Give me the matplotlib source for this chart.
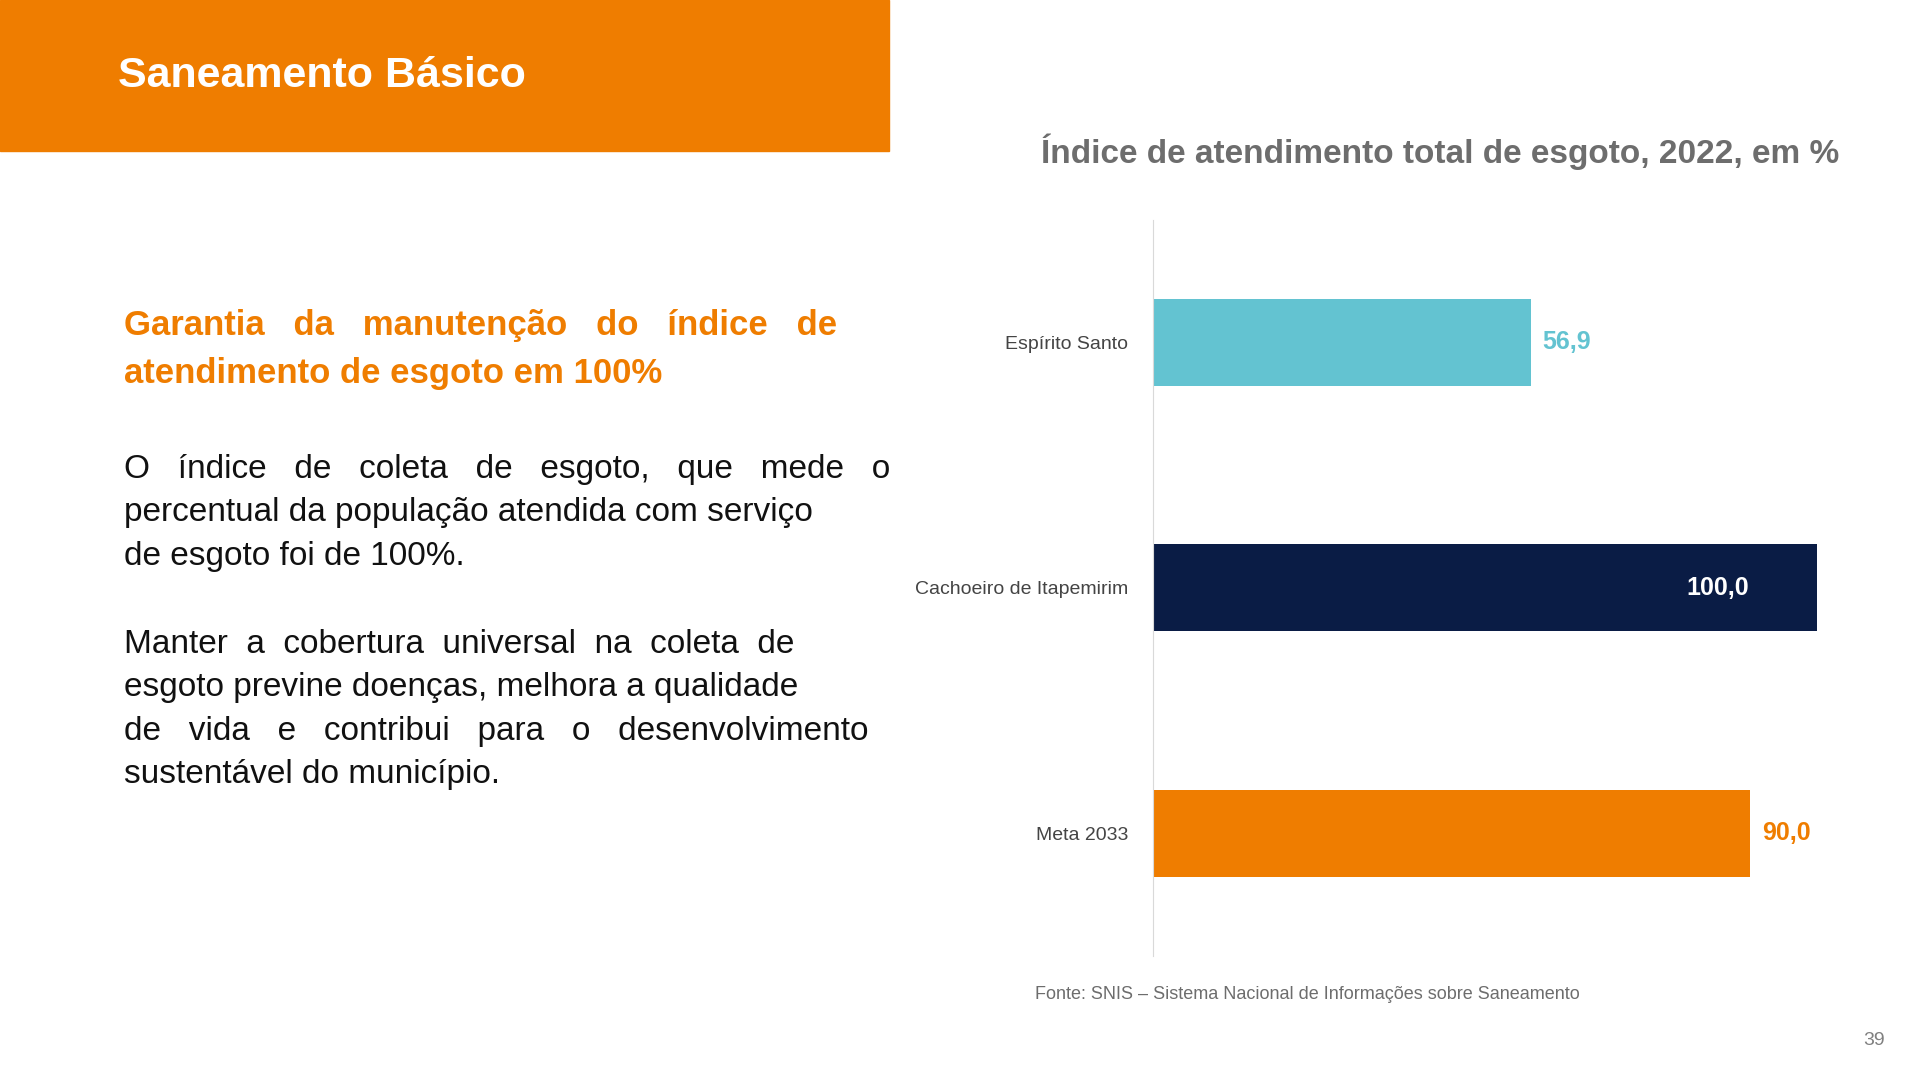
import matplotlib.pyplot as plt

plt.rcParams['font.family'] = ['Liberation Sans Narrow', 'Liberation Sans', 'DejaVu Sans']

# data
categorias = ['Espírito Santo', 'Cachoeiro de Itapemirim', 'Meta 2033']
valores = [56.9, 100.0, 90.0]
rotulos = ['56,9', '100,0', '90,0']
cores = ['#63C3D1', '#0A1C45', '#EF7D00']

W, H = 1545.0, 870.0  # reference layout units
def fx(x): return x / W
def fy(y): return 1 - y / H

fig = plt.figure(figsize=(19.2, 10.8), dpi=100)
fig.patch.set_facecolor('white')

# orange header
fig.patches.append(plt.Rectangle((0, fy(122)), fx(715), 122 / H, transform=fig.transFigure,
                                 color='#EF7D00', zorder=0))
fig.text(fx(95), fy(61), 'Saneamento Básico', color='white', fontsize=31, fontweight='bold',
         va='center', ha='left', family=['Liberation Sans', 'DejaVu Sans'])

# left text
laranja = '#EF7D00'
fig.text(fx(100), fy(262), 'Garantia   da   manutenção   do   índice   de', color=laranja,
         fontsize=25, fontweight='bold', va='center')
fig.text(fx(100), fy(301), 'atendimento de esgoto em 100%', color=laranja,
         fontsize=25, fontweight='bold', va='center')

par1 = ['O   índice   de   coleta   de   esgoto,   que   mede   o',
        'percentual da população atendida com serviço',
        'de esgoto foi de 100%.']
par2 = ['Manter  a  cobertura  universal  na  coleta  de',
        'esgoto previne doenças, melhora a qualidade',
        'de   vida   e   contribui   para   o   desenvolvimento',
        'sustentável do município.']
for i, l in enumerate(par1):
    fig.text(fx(100), fy(378 + 35 * i), l, color='#111111', fontsize=24, va='center')
for i, l in enumerate(par2):
    fig.text(fx(100), fy(519 + 35 * i), l, color='#111111', fontsize=24, va='center')

# chart
fig.text(fx(1480), fy(122), 'Índice de atendimento total de esgoto, 2022, em %', color='#6D6D6D',
         fontsize=24, fontweight='bold', ha='right', va='center')

ax = fig.add_axes([fx(928), fy(770), (1462 - 928) / W, (770 - 177) / H])
pos = list(range(len(categorias)))
ax.barh(pos, valores, height=0.354, color=cores)
ax.set_xlim(0, 100)
ax.set_ylim(2.5, -0.5)
ax.set_yticks(pos)
ax.set_yticklabels(categorias, fontsize=14, color='#444444')
ax.tick_params(axis='y', length=0, pad=18)
ax.set_xticks([])
for s in ['top', 'right', 'bottom']:
    ax.spines[s].set_visible(False)
ax.spines['left'].set_color('#D9D9D9')
for i, (v, r, c) in enumerate(zip(valores, rotulos, cores)):
    if v >= 100:
        ax.text(v - 15, i, r, color='white', fontsize=18, fontweight='bold', ha='center', va='center')
    else:
        ax.text(v + 1.8, i, r, color=c, fontsize=18, fontweight='bold', ha='left', va='center')

fig.text(fx(833), fy(801), 'Fonte: SNIS – Sistema Nacional de Informações sobre Saneamento',
         color='#6D6D6D', fontsize=13, va='center')
fig.text(fx(1517), fy(838), '39', color='#808080', fontsize=14, ha='right', va='center')

fig.savefig('out.png', dpi=100)
